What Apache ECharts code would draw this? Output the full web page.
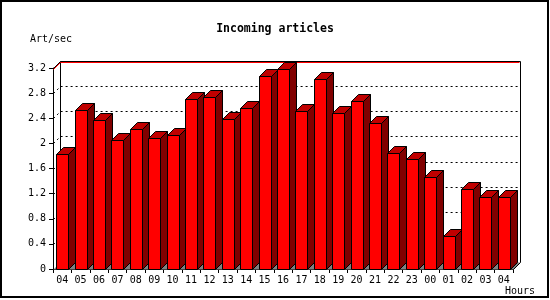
<!DOCTYPE html>
<html>
<head>
<meta charset="utf-8">
<script src="https://cdn.jsdelivr.net/npm/echarts@6/dist/echarts.min.js"></script>
<style>
  html, body { margin: 0; padding: 0; background: #fff; }
  #main { width: 550px; height: 300px; }
</style>
</head>
<body>
<div id="main"></div>
<script>
// hourly incoming articles per second
const hours = ['04', '05', '06', '07', '08', '09', '10', '11', '12', '13', '14', '15', '16',
  '17', '18', '19', '20', '21', '22', '23', '00', '01', '02', '03', '04']
const artPerSec = [1.83, 2.53, 2.37, 2.05, 2.23, 2.09, 2.13, 2.71, 2.74, 2.39, 2.56, 3.07, 3.18,
  2.52, 3.03, 2.48, 2.68, 2.32, 1.85, 1.75, 1.46, 0.52, 1.27, 1.15, 1.15]
const yTicks = [0, 0.4, 0.8, 1.2, 1.6, 2, 2.4, 2.8, 3.2]

const DEPTH = 7
const FONT = 'DejaVu Sans Mono'
const px = v => Math.round(v) + 0.5

let chartDom = document.getElementById('main')
let myChart = echarts.init(chartDom)

// back walls, floor, dotted grid and the max line
function renderFrame (params, api) {
  const cs = params.coordSys
  const x0 = px(cs.x)
  const x1 = px(cs.x + cs.width)
  const yOf = v => px(api.coord([0, v])[1])
  const y0 = yOf(0)
  const yTop = yOf(yTicks[yTicks.length - 1])
  const children = []

  children.push({
    type: 'polygon',
    shape: { points: [[x0, y0], [x1, y0], [x1 + DEPTH, y0 - DEPTH], [x0 + DEPTH, y0 - DEPTH]] },
    style: { fill: '#808080', stroke: null }
  })

  yTicks.slice(1, -1).forEach(v => {
    const y = yOf(v)
    children.push({
      type: 'polyline',
      shape: { points: [[x0, y], [x0 + DEPTH, y - DEPTH], [x1 + DEPTH, y - DEPTH]] },
      style: { stroke: '#000', lineWidth: 1, lineDash: [2, 3], fill: null }
    })
  })

  children.push({
    type: 'polyline',
    shape: { points: [[x0 + DEPTH, y0 - DEPTH], [x0 + DEPTH, yTop - DEPTH]] },
    style: { stroke: '#000', lineWidth: 1, fill: null }
  })
  children.push({
    type: 'polyline',
    shape: { points: [[x0, yTop], [x0 + DEPTH, yTop - DEPTH], [x1 + DEPTH, yTop - DEPTH],
      [x1 + DEPTH, y0 - DEPTH], [x1, y0]] },
    style: { stroke: '#000', lineWidth: 1, fill: null }
  })

  const yMax = yOf(Math.max(...artPerSec))
  children.push({
    type: 'polyline',
    shape: { points: [[x0, yMax], [x0 + DEPTH, yMax - DEPTH], [x1 + DEPTH - 1, yMax - DEPTH]] },
    style: { stroke: '#ff0000', lineWidth: 1, fill: null }
  })
  return { type: 'group', children: children }
}

// one 3d bar: front, side and top faces
function renderBar (params, api) {
  const c = api.coord([api.value(0), api.value(1)])
  const yb = px(api.coord([api.value(0), 0])[1])
  const yt = px(c[1])
  const L = px(c[0] - 6)
  const R = px(c[0] + 6)
  const edge = { stroke: '#000', lineWidth: 1 }
  return {
    type: 'group',
    children: [
      {
        type: 'polygon',
        shape: { points: [[R, yb], [R, yt], [R + DEPTH, yt - DEPTH], [R + DEPTH, yb - DEPTH]] },
        style: Object.assign({ fill: '#800000' }, edge)
      },
      {
        type: 'polygon',
        shape: { points: [[L, yt], [R, yt], [R + DEPTH, yt - DEPTH], [L + DEPTH, yt - DEPTH]] },
        style: Object.assign({ fill: '#c00000' }, edge)
      },
      {
        type: 'rect',
        shape: { x: L, y: yt, width: R - L, height: yb - yt },
        style: Object.assign({ fill: '#ff0000' }, edge)
      }
    ]
  }
}

let option = {
  animation: false,
  backgroundColor: '#fff',
  title: {
    text: 'Incoming articles',
    left: 'center',
    top: 18,
    textStyle: { fontFamily: FONT, fontWeight: 'bold', fontSize: 11.5, color: '#000' }
  },
  graphic: [
    {
      type: 'rect',
      shape: { x: 1, y: 1, width: 547, height: 296 },
      style: { fill: null, stroke: '#000', lineWidth: 2 }
    },
    {
      type: 'text',
      left: 30,
      top: 34,
      style: { text: 'Art/sec', font: '10px ' + FONT, fill: '#000' }
    },
    {
      type: 'text',
      left: 505,
      top: 286,
      style: { text: 'Hours', font: '10px ' + FONT, fill: '#000' }
    }
  ],
  grid: { left: 53, right: 37, top: 68, bottom: 31 },
  xAxis: {
    type: 'category',
    data: hours,
    boundaryGap: true,
    axisLine: { lineStyle: { color: '#000', width: 1 } },
    axisTick: { show: true, length: 4, lineStyle: { color: '#000' } },
    axisLabel: { interval: 0, margin: 6, color: '#000', fontFamily: FONT, fontSize: 10 },
    splitLine: { show: false }
  },
  yAxis: {
    type: 'value',
    min: 0,
    max: 3.2,
    interval: 0.4,
    axisLine: { show: true, lineStyle: { color: '#000', width: 1 } },
    axisTick: { show: true, length: 4, lineStyle: { color: '#000' } },
    axisLabel: { margin: 7, color: '#000', fontFamily: FONT, fontSize: 10 },
    splitLine: { show: false }
  },
  series: [
    {
      type: 'custom',
      name: 'frame',
      z: 1,
      silent: true,
      renderItem: renderFrame,
      data: [[0, 0]]
    },
    {
      type: 'custom',
      name: 'Art/sec',
      z: 3,
      renderItem: renderBar,
      encode: { x: 0, y: 1 },
      data: artPerSec.map((v, i) => [i, v])
    }
  ]
}

myChart.setOption(option)
window.addEventListener('resize', () => myChart.resize())
</script>
</body>
</html>
